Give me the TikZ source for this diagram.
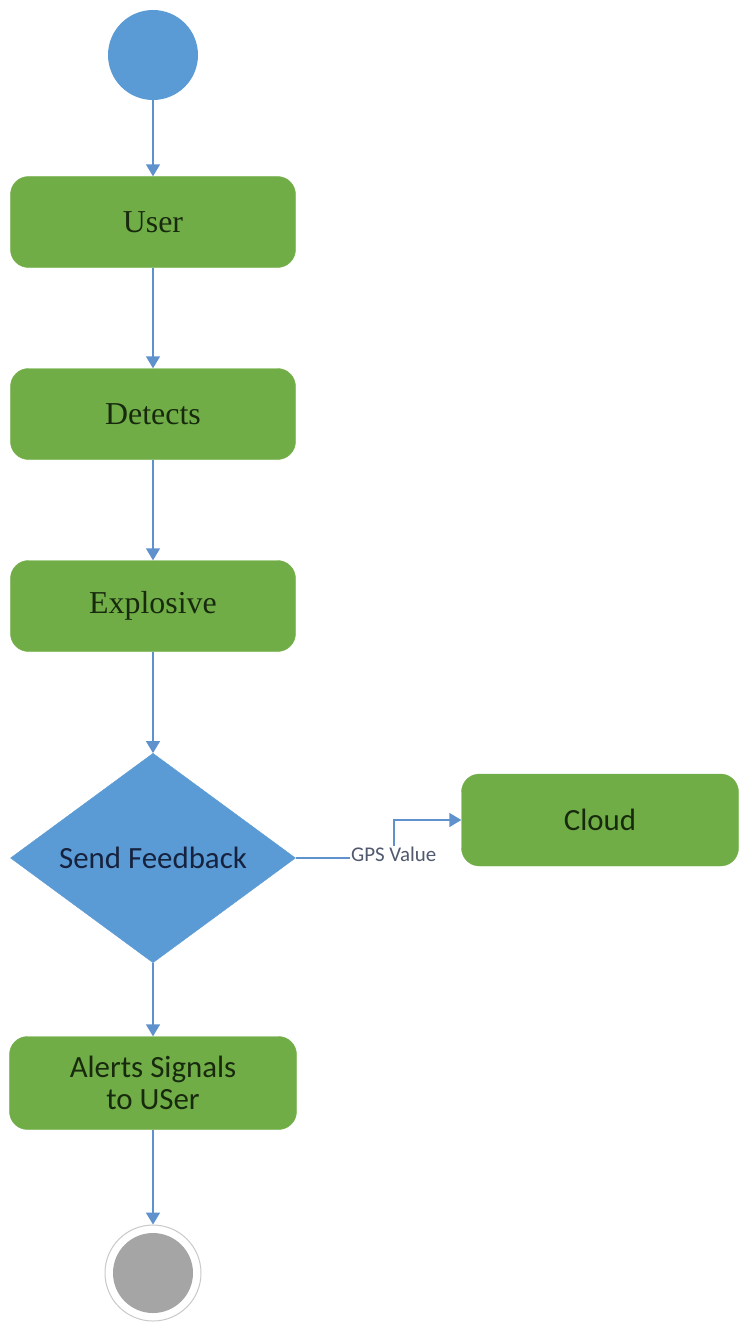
\documentclass[tikz,border=0pt]{standalone}
\usepackage{fontspec}
\setmainfont{Liberation Serif}
\newfontfamily\calib{Carlito}
\usetikzlibrary{positioning, shapes.geometric, arrows.meta}
\definecolor{actgreen}{RGB}{112,173,71}
\definecolor{actblue}{RGB}{91,155,213}
\definecolor{flowblue}{RGB}{95,145,205}
\definecolor{endgray}{RGB}{165,165,165}
\definecolor{txtgreen}{RGB}{24,42,14}
\definecolor{txtblue}{RGB}{22,34,62}

\begin{document}
\begin{tikzpicture}[x=1bp,y=1bp,>={Triangle[width=14bp,length=12bp]},
	node distance=192bp]
	\tikzstyle{activity}=[rectangle,rounded corners=18bp,fill=actgreen,draw=actgreen,
		minimum width=285bp,minimum height=91bp,inner sep=0pt,text=txtgreen,
		font=\fontsize{32}{36}\selectfont]
	\tikzstyle{sans activity}=[activity,font=\calib\fontsize{31}{32}\selectfont,align=center]
	\tikzstyle{flow}=[->,draw=flowblue,line width=1.6bp]
	\useasboundingbox (0,0) rectangle (739,-1322);

	\node[circle,fill=actblue,minimum size=90bp,inner sep=0pt] (start) at (153,-55) {};
	\node[activity] (user) [below of=start, node distance=167bp] {User};
	\node[activity] (detects) [below of=user] {Detects};
	\node[activity] (explosive) [below of=detects] {Explosive};
	\node[diamond,fill=actblue,draw=actblue,minimum width=285bp,minimum height=208bp,
		inner sep=0pt,text=txtblue,font=\calib\fontsize{31}{34}\selectfont]
		(feedback) [below of=explosive, node distance=252bp] {Send Feedback};
	\node[sans activity,minimum width=277bp,minimum height=92bp] (cloud)
		[right of=feedback, node distance=447bp, yshift=38bp] {Cloud};
	\node[sans activity,minimum width=287bp,minimum height=93bp] (alerts)
		[below of=feedback, node distance=225bp] {Alerts Signals\\to USer};
	\node[circle,draw=endgray!60,line width=1bp,fill=white,minimum size=96bp,inner sep=0pt]
		(end) [below of=alerts, node distance=190bp] {};
	\node[circle,fill=endgray,minimum size=80bp,inner sep=0pt] (endfill) at (end) {};

	\draw[flow] (start) -- (user);
	\draw[flow] (user) -- (detects);
	\draw[flow] (detects) -- (explosive);
	\draw[flow] (explosive) -- (feedback);
	\draw[flow] (feedback.east) -- ++(98bp,0)
		node[fill=white,inner sep=1bp,yshift=4bp,text=txtblue!75!white,
			font=\calib\fontsize{21}{23}\selectfont] {GPS Value}
		|- (cloud.west);
	\draw[flow] (feedback) -- (alerts);
	\draw[flow] (alerts) -- (end);
\end{tikzpicture}
\end{document}
